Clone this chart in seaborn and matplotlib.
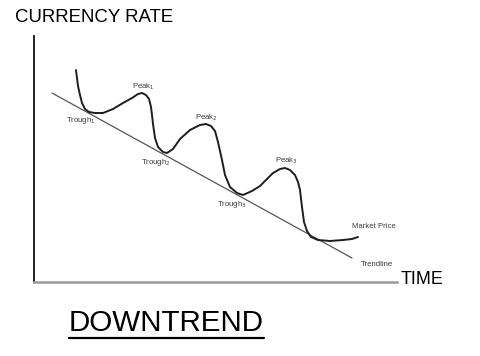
import matplotlib
matplotlib.use("Agg")
import matplotlib.pyplot as plt
import seaborn as sns
import pandas as pd
from matplotlib.lines import Line2D

# ---- data (time, rate) ----
price_time = [42, 43, 44, 46, 48, 51, 55, 61, 69, 79, 89, 98, 104, 108, 112, 115, 117, 118,
              119, 121, 124, 129, 133, 139, 146, 156, 166, 172, 177, 181, 184, 188, 191,
              196, 203, 209, 218, 226, 232, 239, 246, 251, 256, 261, 264, 266, 268, 270,
              273, 277, 284, 296, 309, 318, 324]
price_rate = [212, 204, 196, 187, 179, 173, 170, 169, 169, 173, 179, 184, 188, 189, 187, 183,
              175, 167, 158, 144, 135, 130, 129, 133, 143, 152, 157, 158, 156, 151, 140, 122,
              107, 95, 89, 87, 91, 96, 102, 109, 113, 114, 112, 107, 100, 92, 75, 60, 51,
              45, 42, 41, 42, 43, 45]
trend_time = [18, 318]
trend_rate = [189, 24]

label_text = ["Peak$_1$", "Trough$_1$", "Peak$_2$", "Trough$_2$", "Peak$_3$", "Trough$_3$",
              "Market Price", "Trendline"]
label_time = [109, 47, 172, 122, 252, 198, 340, 343]
label_rate = [195, 162, 164, 119, 121, 78, 55, 17]

sns.set_theme(style="white")
plt.rcParams['font.family'] = ['Liberation Sans', 'DejaVu Sans']

W, H = 480, 356
fig = plt.figure(figsize=(W / 100, H / 100), dpi=100)
ax = fig.add_axes([34 / W, (H - 282) / H, (397 - 34) / W, (282 - 36) / H])

price = pd.DataFrame({"time": price_time, "rate": price_rate})
trend = pd.DataFrame({"time": trend_time, "rate": trend_rate})

sns.lineplot(data=trend, x="time", y="rate", ax=ax, color="#555555", lw=0.9,
             sort=False, estimator=None)
sns.lineplot(data=price, x="time", y="rate", ax=ax, color="#1e1e1e", lw=1.4,
             sort=False, estimator=None, solid_joinstyle="round", solid_capstyle="round")

for t, x, y in zip(label_text, label_time, label_rate):
    ax.text(x, y, t, fontsize=5.6, color="#3a3a3a", ha="center", va="center", clip_on=False)

ax.set_xlim(0, 363)
ax.set_ylim(0, 246)
ax.set_xticks([])
ax.set_yticks([])
ax.set_xlabel("")
ax.set_ylabel("")
for s in ["top", "right"]:
    ax.spines[s].set_visible(False)
ax.spines["left"].set_color("#222222")
ax.spines["left"].set_linewidth(1.4)
ax.spines["bottom"].set_color("#9a9a9a")
ax.spines["bottom"].set_linewidth(1.8)

fig.text(15 / W, 1 - 18 / H, "CURRENCY RATE", fontsize=13.4, color="black", ha="left", va="center")
fig.text(401 / W, 1 - 279 / H, "TIME", fontsize=13, color="black", ha="left", va="center")
title = fig.text(69 / W, 1 - 323 / H, "DOWNTREND", fontsize=21.3, color="black",
                 ha="left", va="center")

fig.canvas.draw()
bb = title.get_window_extent()
fig.add_artist(Line2D([bb.x0 / W, bb.x1 / W], [1 - 338 / H, 1 - 338 / H],
                      transform=fig.transFigure, color="black", lw=1.6))

fig.savefig("out.png", dpi=100)
